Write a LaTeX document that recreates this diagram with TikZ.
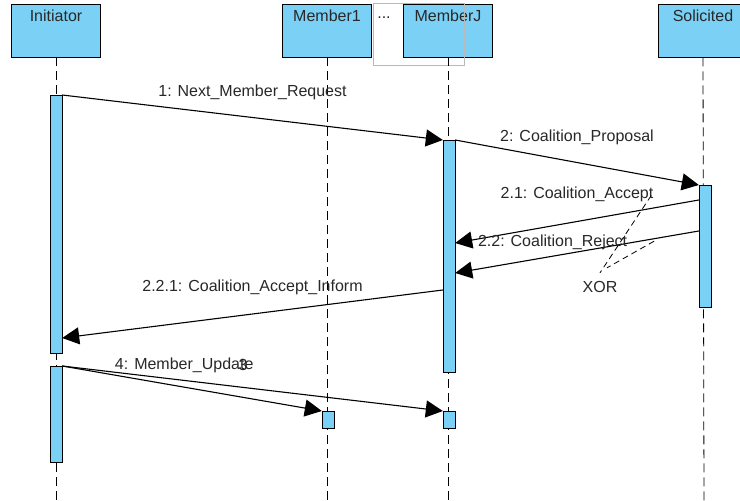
\documentclass[tikz,border=0pt]{standalone}
\usepackage{fontspec}
\setmainfont{Liberation Sans}
\usetikzlibrary{positioning,arrows.meta,calc}
\definecolor{LifeBlue}{RGB}{122,208,245}
\definecolor{FrameGray}{RGB}{185,185,185}
\definecolor{TextGray}{RGB}{40,40,40}

\begin{document}
\begin{tikzpicture}[x=1pt,y=-1pt,
		every node/.style={font=\fontsize{16}{19}\selectfont,text=TextGray},
		lifebox/.style={draw=black,thick,fill=LifeBlue,minimum width=89pt,minimum height=53pt,inner sep=0pt},
		boxname/.style={anchor=north,inner sep=0pt},
		actbar/.style={draw=black,fill=LifeBlue,minimum width=12pt,inner sep=0pt,anchor=north},
		lifeline/.style={thick,dash pattern=on 9pt off 5pt},
		msg/.style={line width=1.1pt,-{Triangle[length=17pt,width=17pt]}},
		xorline/.style={line width=0.8pt,dash pattern=on 6pt off 4pt}]
	\fill[white] (0,0) rectangle (740,501);
	\clip (0,0) rectangle (740,501);
	% lifelines
	\node[lifebox] (ini) at (56,30.5) {};
	\node[lifebox] (mem1) at (327,30.5) {};
	\node[lifebox] (memj) at (448,30.5) {};
	\node[lifebox] (sol) at (703,30.5) {};
	\node[boxname] (ininame) at ($(ini.north)+(0,6)$) {Initiator};
	\node[boxname] (mem1name) at ($(mem1.north)+(0,6)$) {Member1};
	\node[boxname] (memjname) at ($(memj.north)+(0,6)$) {MemberJ};
	\node[boxname] (solname) at ($(sol.north)+(0,6)$) {Solicited};
	\draw[FrameGray,thick] (373,3) rectangle (464,65);
	\node (dots) at (384,18) {...};
	\coordinate (iniend) at (56,501);
	\coordinate (mem1end) at (327,501);
	\coordinate (memjend) at (448,501);
	\coordinate (solend) at (704,501);
	\draw[lifeline] (ini.south) -- (iniend);
	\draw[lifeline] (mem1.south) -- (mem1end);
	\draw[lifeline] (memj.south) -- (memjend);
	\draw[lifeline] (sol.south) -- (solend);
	% activations
	\node[actbar,minimum height=258pt] (iniA) at (56,95) {};
	\node[actbar,minimum height=96pt] (iniB) at (56,366) {};
	\node[actbar,minimum height=232pt] (memjA) at (449,140) {};
	\node[actbar,minimum height=122pt] (solA) at (705,185) {};
	\node[actbar,minimum height=17pt] (mem1B) at (328,411) {};
	\node[actbar,minimum height=17pt] (memjB) at (449,411) {};
	\coordinate (s21) at ($(solA.north west)+(0,15)$);
	\coordinate (j21) at ($(memjA.north east)+(0,103)$);
	\coordinate (s22) at ($(solA.north west)+(0,46)$);
	\coordinate (j22) at ($(memjA.north east)+(0,133)$);
	\coordinate (j221) at ($(memjA.north west)+(0,150)$);
	\coordinate (i221) at ($(iniA.north east)+(0,243)$);
	% messages
	\draw[msg] (iniA.north east) -- (memjA.north west) node[midway,yshift=25pt] (m1) {1: Next\_Member\_Request};
	\draw[msg] (memjA.north east) -- (solA.north west) node[midway,yshift=25pt] (m2) {2: Coalition\_Proposal};
	\draw[msg] (s21) -- (j21) node[midway,yshift=27pt] (acc) {2.1: Coalition\_Accept};
	\draw[msg] (s22) -- (j22) node[pos=0.6,yshift=14pt] (rej) {2.2: Coalition\_Reject};
	\draw[msg] (j221) -- (i221) node[midway,yshift=27pt] (m221) {2.2.1: Coalition\_Accept\_Inform};
	\draw[msg] (iniB.north east) -- (mem1B.north west) node[pos=0.47,yshift=22pt] (m4) {4: Member\_Update};
	\draw[msg] (iniB.north east) -- (memjB.north west) node[pos=0.475,yshift=22pt] (m3) {3};
	% xor constraint
	\node (xor) at (600,287) {XOR};
	\draw[xorline] ($(acc.east)+(-6,1)$) -- ($(xor.north)+(0,-5)$);
	\draw[xorline] ($(rej.east)+(23,-1)$) -- ($(xor.north)+(7,-10)$);
\end{tikzpicture}
\end{document}
